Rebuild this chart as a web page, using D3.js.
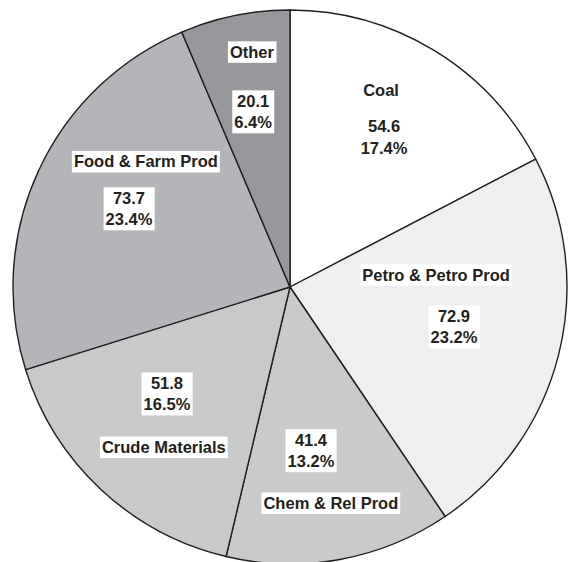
<!DOCTYPE html>
<html>
<head>
<meta charset="utf-8">
<script src="https://cdn.jsdelivr.net/npm/d3@7"></script>
<style>
  body { margin: 0; background: #fff; }
  svg text { font-family: "Liberation Sans", Arial, sans-serif; font-weight: bold; fill: #231f20; }
</style>
</head>
<body>
<div id="pie-box"></div>
<script>
// chart data
const categories = ["Coal", "Petro & Petro Prod", "Chem & Rel Prod", "Crude Materials", "Food & Farm Prod", "Other"];
const values = [54.6, 72.9, 41.4, 51.8, 73.7, 20.1];
const percents = ["17.4%", "23.2%", "13.2%", "16.5%", "23.4%", "6.4%"];
const colors = ["#ffffff", "#efefef", "#c9cacc", "#c8c9cb", "#b4b5b8", "#97989c"];

// label placement: [radius, angle in degrees clockwise from top]
const namePlace = [[217, 24.8], [146.5, 85.3], [220, 169.3], [204, 218.2], [191, 311], [238, 350.8]];
const valuePlace = [[177, 32.1], [168.8, 103.7], [165, 172.7], [163, 229], [179, 295.9], [179, 348.1]];

const w = 572, h = 562;
const cx = 290, cy = 287, radius = 277;
const fontSize = 16.5, lineH = 21.5, pad = 2;

const svg = d3.select("#pie-box")
  .append("svg")
  .attr("width", w)
  .attr("height", h);

const g = svg.append("g").attr("transform", "translate(" + cx + "," + cy + ")");

const pie = d3.pie().sort(null).value(d => d);
const arc = d3.arc().innerRadius(0).outerRadius(radius);
const arcs = pie(values);

g.selectAll("path")
  .data(arcs)
  .enter()
  .append("path")
  .attr("d", arc)
  .style("fill", (d, i) => colors[i])
  .style("stroke", "#231f20")
  .style("stroke-width", 1.4)
  .style("stroke-linejoin", "round");

const polar = (p) => {
  const a = p[1] * Math.PI / 180;
  return [p[0] * Math.sin(a), -p[0] * Math.cos(a)];
};

// text block with white box behind it
function labelBlock(lines, pos) {
  const blk = g.append("g").attr("transform", "translate(" + pos[0] + "," + pos[1] + ")");
  const rect = blk.append("rect").style("fill", "#fff");
  const t = blk.append("text")
    .attr("text-anchor", "middle")
    .style("font-size", fontSize + "px");
  const top = -(lines.length * lineH) / 2;
  lines.forEach((s, k) => {
    t.append("tspan")
      .attr("x", 0)
      .attr("y", top + lineH * k + lineH / 2)
      .attr("dy", "0.35em")
      .text(s);
  });
  const bb = t.node().getBBox();
  rect.attr("x", bb.x - pad)
    .attr("y", top)
    .attr("width", bb.width + pad * 2)
    .attr("height", lines.length * lineH);
}

categories.forEach((c, i) => {
  labelBlock([c], polar(namePlace[i]));
  labelBlock([values[i].toFixed(1), percents[i]], polar(valuePlace[i]));
});
</script>
</body>
</html>
